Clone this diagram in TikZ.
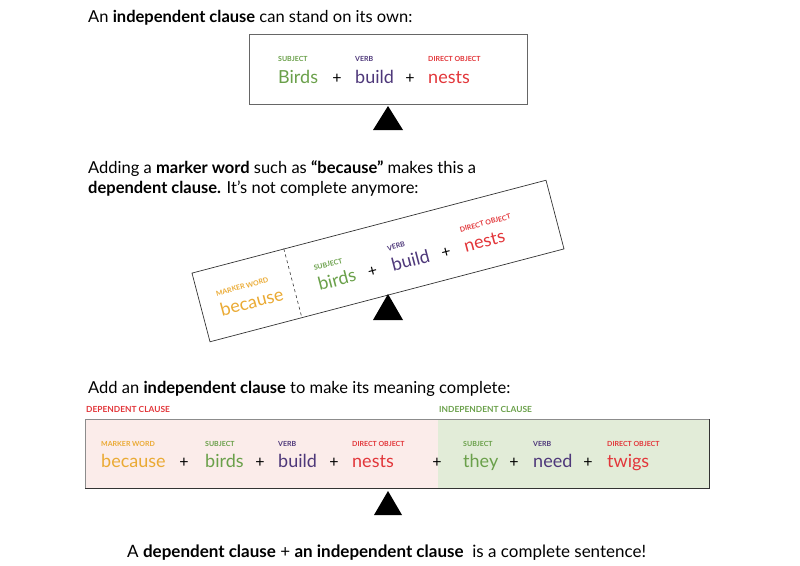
\documentclass[tikz,border=0pt]{standalone}
\usepackage{fontspec}
\setmainfont{Lato}
\usetikzlibrary{calc}
\definecolor{subjcol}{RGB}{106,160,74}
\definecolor{verbcol}{RGB}{78,56,122}
\definecolor{objcol}{RGB}{226,54,58}
\definecolor{markcol}{RGB}{234,170,52}
\definecolor{depfill}{RGB}{251,236,234}
\definecolor{indfill}{RGB}{226,236,216}
\begin{document}
\begin{tikzpicture}[x=1pt,y=-1pt,
  heading/.style={anchor=base west,inner sep=0pt,font=\fontsize{16.5}{20}\selectfont},
  word/.style={anchor=base west,inner sep=0pt,font=\fontsize{18}{20}\selectfont},
  tag/.style={anchor=base west,inner sep=0pt,font=\fontsize{7}{8}\selectfont\bfseries},
  cltag/.style={anchor=base west,inner sep=0pt,font=\fontsize{8.4}{9}\selectfont\bfseries},
  plus/.style={anchor=base,inner sep=0pt,font=\fontsize{16}{18}\selectfont},
  clausebox/.style={draw=black!60,line width=0.9pt,inner sep=0pt}]
\useasboundingbox (0,0) rectangle (800,565);
\node[heading] (title1) at (88,22) {An \textbf{independent clause} can stand on its own:};
\node[clausebox,minimum width=278,minimum height=70] (box1) at (388,69) {};
\node[word,text=subjcol] (birds1) at (278,83) {Birds};
\node[tag,text=subjcol] at ($(birds1.base west)+(0,-22)$) {SUBJECT};
\node[plus] (p11) at (337,83) {+};
\node[word,text=verbcol] (build1) at (355,83) {build};
\node[tag,text=verbcol] at ($(build1.base west)+(0,-22)$) {VERB};
\node[plus] (p12) at (410,83) {+};
\node[word,text=objcol] (nests1) at (428,83) {nests};
\node[tag,text=objcol] at ($(nests1.base west)+(0,-22)$) {DIRECT OBJECT};
\fill (388,106) -- (403,130) -- (373,130) -- cycle;
\node[heading] (title2a) at (88,173) {Adding a \textbf{marker word} such as \textbf{“because”} makes this a};
\node[heading] (title2b) at (88,193) {\textbf{dependent clause.} It’s not complete anymore:};
\begin{scope}[shift={(378,261)},rotate=14.7,transform shape]
\node[draw=black!80,line width=0.7pt,minimum width=366,minimum height=71,inner sep=0pt] (box2) at (0,0) {};
\draw[dashed,black!80,line width=0.6pt] ($(box2.north west)!0.26!(box2.north east)$) -- ($(box2.south west)!0.26!(box2.south east)$);
\node[word,text=markcol] (because2) at (-165,14) {because};
\node[tag,text=markcol] at ($(because2.base west)+(0,-21)$) {MARKER WORD};
\node[word,text=subjcol] (birds2) at (-64,14) {birds};
\node[tag,text=subjcol] at ($(birds2.base west)+(0,-21)$) {SUBJECT};
\node[plus] (p21) at (-8,14) {+};
\node[word,text=verbcol] (build2) at (12,14) {build};
\node[tag,text=verbcol] at ($(build2.base west)+(0,-21)$) {VERB};
\node[plus] (p22) at (68,14) {+};
\node[word,text=objcol] (nests2) at (87,14) {nests};
\node[tag,text=objcol] at ($(nests2.base west)+(0,-21)$) {DIRECT OBJECT};
\end{scope}
\fill (388,294) -- (403,320) -- (373,320) -- cycle;
\node[heading] (title3) at (88,393) {Add an \textbf{independent clause} to make its meaning complete:};
\node[cltag,text=objcol] (deplabel) at (86,412) {DEPENDENT CLAUSE};
\node[cltag,text=subjcol] (indlabel) at (439,412) {INDEPENDENT CLAUSE};
\fill[depfill] (85,419) rectangle (438,488);
\fill[indfill] (438,419) rectangle (709,488);
\draw[black!45,line width=0.9pt] (85,488) -- (85,419) -- (709,419);
\draw[black!80,line width=0.9pt] (709,419) -- (709,488) -- (85,488);
\node[word,text=markcol] (because3) at (101,467) {because};
\node[tag,text=markcol] at ($(because3.base west)+(0,-21)$) {MARKER WORD};
\node[plus] (p31) at (184,467) {+};
\node[word,text=subjcol] (birds3) at (205,467) {birds};
\node[tag,text=subjcol] at ($(birds3.base west)+(0,-21)$) {SUBJECT};
\node[plus] (p32) at (260,467) {+};
\node[word,text=verbcol] (build3) at (278,467) {build};
\node[tag,text=verbcol] at ($(build3.base west)+(0,-21)$) {VERB};
\node[plus] (p33) at (334,467) {+};
\node[word,text=objcol] (nests3) at (352,467) {nests};
\node[tag,text=objcol] at ($(nests3.base west)+(0,-21)$) {DIRECT OBJECT};
\node[plus] (p34) at (437,467) {+};
\node[word,text=subjcol] (they3) at (463,467) {they};
\node[tag,text=subjcol] at ($(they3.base west)+(0,-21)$) {SUBJECT};
\node[plus] (p35) at (514,467) {+};
\node[word,text=verbcol] (need3) at (533,467) {need};
\node[tag,text=verbcol] at ($(need3.base west)+(0,-21)$) {VERB};
\node[plus] (p36) at (588,467) {+};
\node[word,text=objcol] (twigs3) at (607,467) {twigs};
\node[tag,text=objcol] at ($(twigs3.base west)+(0,-21)$) {DIRECT OBJECT};
\fill (388,491) -- (402,515) -- (374,515) -- cycle;
\node[heading,font=\fontsize{17}{20}\selectfont] (summary) at (127,557) {A \textbf{dependent clause} + \textbf{an independent clause}\ \ is a complete sentence!};
\end{tikzpicture}
\end{document}
